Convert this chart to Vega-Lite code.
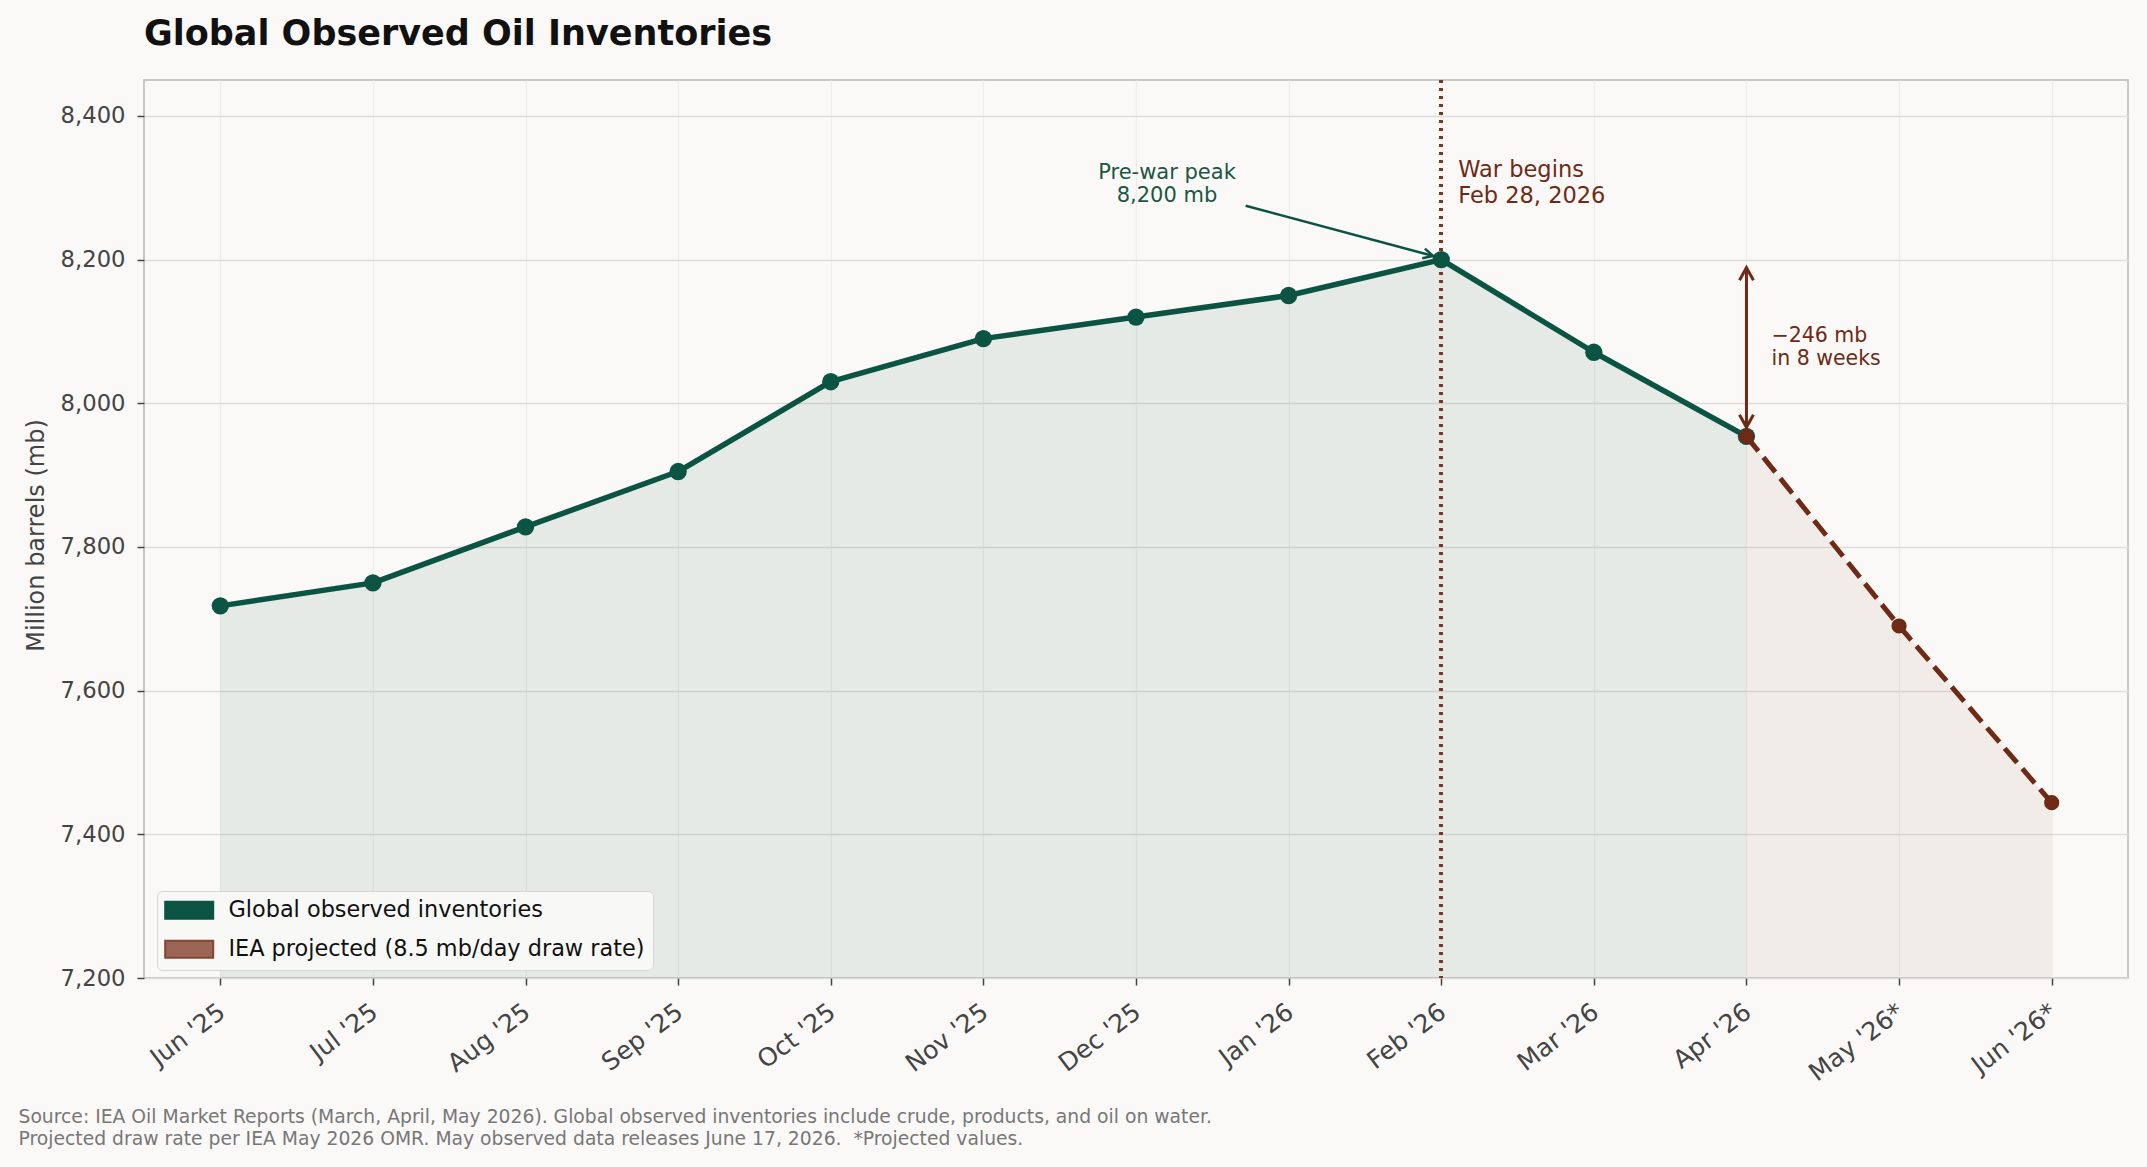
{
  "$schema": "https://vega.github.io/schema/vega-lite/v6.json",
  "autosize": "none",
  "width": 1984,
  "height": 898,
  "padding": {"left": 144, "top": 80, "right": 19, "bottom": 189},
  "background": "#faf9f7",
  "title": {
    "text": "Global Observed Oil Inventories",
    "anchor": "start",
    "frame": "group",
    "font": "DejaVu Sans",
    "fontSize": 35,
    "fontWeight": "bold",
    "color": "#111111",
    "baseline": "alphabetic",
    "offset": -1
  },
  "datasets": {
    "inventories": [
      {"month": "Jun '25", "mb": 7718, "series": "Global observed inventories"},
      {"month": "Jul '25", "mb": 7750, "series": "Global observed inventories"},
      {"month": "Aug '25", "mb": 7828, "series": "Global observed inventories"},
      {"month": "Sep '25", "mb": 7905, "series": "Global observed inventories"},
      {"month": "Oct '25", "mb": 8030, "series": "Global observed inventories"},
      {"month": "Nov '25", "mb": 8090, "series": "Global observed inventories"},
      {"month": "Dec '25", "mb": 8120, "series": "Global observed inventories"},
      {"month": "Jan '26", "mb": 8150, "series": "Global observed inventories"},
      {"month": "Feb '26", "mb": 8200, "series": "Global observed inventories"},
      {"month": "Mar '26", "mb": 8071, "series": "Global observed inventories"},
      {"month": "Apr '26", "mb": 7954, "series": "Global observed inventories"},
      {"month": "Apr '26", "mb": 7954, "series": "IEA projected (8.5 mb/day draw rate)"},
      {"month": "May '26*", "mb": 7690, "series": "IEA projected (8.5 mb/day draw rate)"},
      {"month": "Jun '26*", "mb": 7444, "series": "IEA projected (8.5 mb/day draw rate)"}
    ]
  },
  "data": {"name": "inventories"},
  "layer": [
    {
      "mark": {"type": "area", "fillOpacity": 0.085, "interpolate": "linear"},
      "encoding": {
        "x": {
          "field": "month",
          "type": "ordinal",
          "sort": null,
          "scale": {
            "type": "point",
            "padding": 0.5,
            "domain": ["Jun '25", "Jul '25", "Aug '25", "Sep '25", "Oct '25", "Nov '25", "Dec '25", "Jan '26", "Feb '26", "Mar '26", "Apr '26", "May '26*", "Jun '26*"]
          },
          "axis": {
            "title": [
              "Source: IEA Oil Market Reports (March, April, May 2026). Global observed inventories include crude, products, and oil on water.",
              "Projected draw rate per IEA May 2026 OMR. May observed data releases June 17, 2026.\u00a0 *Projected values."
            ],
            "titleFont": "DejaVu Sans",
            "titleFontSize": 18.75,
            "titleFontWeight": "normal",
            "titleColor": "#777777",
            "titleAnchor": "start",
            "titleAlign": "left",
            "titleBaseline": "alphabetic",
            "titleX": -126,
            "titleY": 144,
            "titleLineHeight": 22,
            "labelAngle": -37,
            "labelAlign": "right",
            "labelBaseline": "top",
            "labelFont": "DejaVu Sans",
            "labelFontSize": 25,
            "labelColor": "#444444",
            "labelPadding": 14,
            "labelOffset": -6,
            "tickSize": 7,
            "tickWidth": 1.5,
            "tickColor": "#444444",
            "domain": false,
            "grid": true,
            "gridColor": "#ededea",
            "gridWidth": 1.2
          }
        },
        "y": {
          "field": "mb",
          "type": "quantitative",
          "scale": {"domain": [7200, 8450], "nice": false, "zero": false},
          "axis": {
            "title": "Million barrels (mb)",
            "titleFont": "DejaVu Sans",
            "titleFontSize": 24,
            "titleFontWeight": "normal",
            "titleColor": "#444444",
            "titleAngle": -90,
            "titleAlign": "center",
            "titleBaseline": "middle",
            "titleX": -108,
            "titleY": 455,
            "values": [7200, 7400, 7600, 7800, 8000, 8200, 8400],
            "format": ",.0f",
            "labelFont": "DejaVu Sans",
            "labelFontSize": 22.7,
            "labelColor": "#444444",
            "labelPadding": 12,
            "tickSize": 7,
            "tickWidth": 1.5,
            "tickColor": "#444444",
            "domain": false,
            "grid": true,
            "gridColor": "#dddddb",
            "gridWidth": 1.3
          }
        },
        "y2": {"datum": 7200},
        "color": {
          "field": "series",
          "type": "nominal",
          "scale": {
            "domain": ["Global observed inventories", "IEA projected (8.5 mb/day draw rate)"],
            "range": ["#0b5444", "#9b6655"]
          },
          "legend": {
            "title": null,
            "orient": "none",
            "legendX": 13,
            "legendY": 811,
            "direction": "vertical",
            "symbolType": "M-2.4,-0.85H2.4V0.85H-2.4Z",
            "symbolSize": 400,
            "symbolStrokeWidth": 2,
            "symbolOffset": 13,
            "symbolOpacity": 1,
            "labelOffset": 28,
            "labelFont": "DejaVu Sans",
            "labelFontSize": 22.4,
            "labelColor": "#111111",
            "labelLimit": 800,
            "rowPadding": 13,
            "padding": 8,
            "fillColor": "#f8f8f6",
            "strokeColor": "#d6d6d4",
            "cornerRadius": 5,
            "encode": {
              "symbols": {
                "update": {
                  "fillOpacity": {"value": 1},
                  "opacity": {"value": 1},
                  "stroke": {"signal": "datum.value === 'Global observed inventories' ? '#0b5444' : '#86442f'"}
                }
              }
            }
          }
        }
      }
    },
    {
      "mark": {"type": "rule", "color": "#7a3520", "opacity": 0.65, "strokeWidth": 3, "strokeDash": [3, 5]},
      "encoding": {"x": {"datum": "Feb '26"}}
    },
    {
      "transform": [{"filter": "datum.series === 'Global observed inventories'"}],
      "mark": {"type": "line", "color": "#0b5444", "strokeWidth": 5.5, "strokeJoin": "round", "strokeCap": "round"},
      "encoding": {
        "x": {"field": "month", "type": "ordinal", "sort": null},
        "y": {"field": "mb", "type": "quantitative"}
      }
    },
    {
      "transform": [{"filter": "datum.series === 'Global observed inventories'"}],
      "mark": {"type": "point", "filled": true, "size": 300, "color": "#0b5444", "opacity": 1},
      "encoding": {
        "x": {"field": "month", "type": "ordinal", "sort": null},
        "y": {"field": "mb", "type": "quantitative"}
      }
    },
    {
      "transform": [{"filter": "datum.series === 'IEA projected (8.5 mb/day draw rate)'"}],
      "mark": {"type": "line", "color": "#6e2a14", "strokeWidth": 5, "strokeDash": [19, 8]},
      "encoding": {
        "x": {"field": "month", "type": "ordinal", "sort": null},
        "y": {"field": "mb", "type": "quantitative"}
      }
    },
    {
      "transform": [{"filter": "datum.series === 'IEA projected (8.5 mb/day draw rate)'"}],
      "mark": {"type": "point", "filled": true, "size": 230, "color": "#6e2a14", "opacity": 1},
      "encoding": {
        "x": {"field": "month", "type": "ordinal", "sort": null},
        "y": {"field": "mb", "type": "quantitative"}
      }
    },
    {
      "transform": [
        {"filter": "datum.series === 'Global observed inventories'"},
        {"filter": {"field": "month", "oneOf": ["Feb '26", "Apr '26"]}}
      ],
      "mark": {"type": "rule", "color": "#6e2a14", "strokeWidth": 3, "yOffset": 8, "y2Offset": -9},
      "encoding": {
        "x": {"datum": "Apr '26"},
        "y": {"aggregate": "max", "field": "mb", "type": "quantitative"},
        "y2": {"aggregate": "min", "field": "mb"}
      }
    },
    {
      "transform": [
        {"filter": "datum.series === 'Global observed inventories'"},
        {"filter": {"field": "month", "oneOf": ["Feb '26", "Apr '26"]}}
      ],
      "mark": {"type": "point", "shape": "M-0.55,1L0,0L0.55,1", "filled": false, "size": 640, "stroke": "#6e2a14", "strokeWidth": 3, "opacity": 1, "yOffset": 8},
      "encoding": {
        "x": {"datum": "Apr '26"},
        "y": {"aggregate": "max", "field": "mb", "type": "quantitative"}
      }
    },
    {
      "transform": [
        {"filter": "datum.series === 'Global observed inventories'"},
        {"filter": {"field": "month", "oneOf": ["Feb '26", "Apr '26"]}}
      ],
      "mark": {"type": "point", "shape": "M-0.55,-1L0,0L0.55,-1", "filled": false, "size": 640, "stroke": "#6e2a14", "strokeWidth": 3, "opacity": 1, "yOffset": -9},
      "encoding": {
        "x": {"datum": "Apr '26"},
        "y": {"aggregate": "min", "field": "mb", "type": "quantitative"}
      }
    },
    {
      "data": {"values": [{"note": "peak arrow"}]},
      "mark": {"type": "rule", "color": "#0b5444", "strokeWidth": 2.5, "xOffset": -43, "x2Offset": -8},
      "encoding": {
        "x": {"datum": "Jan '26"},
        "x2": {"datum": "Feb '26"},
        "y": {"datum": 8275},
        "y2": {"datum": 8205}
      }
    },
    {
      "data": {"values": [{"note": "peak arrow head"}]},
      "mark": {"type": "point", "shape": "M-1,-0.5L0,0L-1,0.5", "angle": 15, "filled": false, "size": 400, "stroke": "#0b5444", "strokeWidth": 2.5, "opacity": 1, "xOffset": -8},
      "encoding": {
        "x": {"datum": "Feb '26"},
        "y": {"datum": 8205}
      }
    },
    {
      "data": {"values": [{"label": "Pre-war peak\n8,200 mb"}]},
      "mark": {"type": "text", "align": "center", "baseline": "alphabetic", "dx": 31, "font": "DejaVu Sans", "fontSize": 21, "lineHeight": 22.5, "lineBreak": "\n", "color": "#1b5645"},
      "encoding": {
        "x": {"datum": "Dec '25"},
        "y": {"datum": 8312},
        "text": {"field": "label"}
      }
    },
    {
      "data": {"values": [{"label": "War begins\nFeb 28, 2026"}]},
      "mark": {"type": "text", "align": "left", "baseline": "alphabetic", "dx": 17, "font": "DejaVu Sans", "fontSize": 22.5, "lineHeight": 26.5, "lineBreak": "\n", "color": "#6e2a14"},
      "encoding": {
        "x": {"datum": "Feb '26"},
        "y": {"datum": 8315},
        "text": {"field": "label"}
      }
    },
    {
      "data": {"values": [{"label": "−246 mb\nin 8 weeks"}]},
      "mark": {"type": "text", "align": "left", "baseline": "alphabetic", "dx": 25, "font": "DejaVu Sans", "fontSize": 20.5, "lineHeight": 23, "lineBreak": "\n", "color": "#6e2a14"},
      "encoding": {
        "x": {"datum": "Apr '26"},
        "y": {"datum": 8085},
        "text": {"field": "label"}
      }
    }
  ],
  "config": {
    "font": "DejaVu Sans",
    "view": {"stroke": "#c8c8c6", "strokeWidth": 2, "fill": "#faf9f7"}
  }
}
